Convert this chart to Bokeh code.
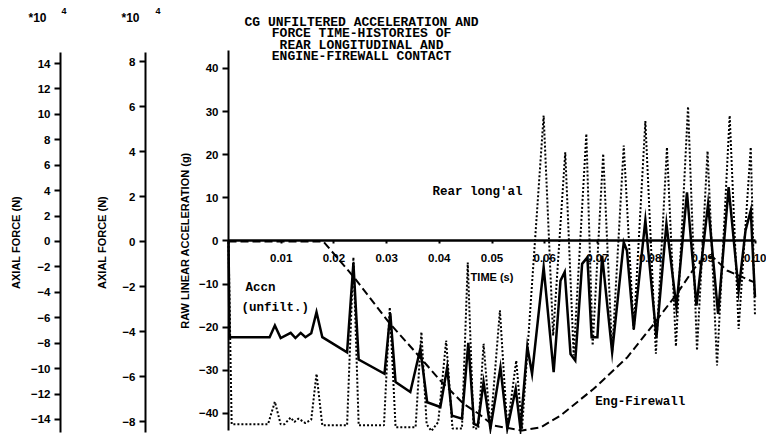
from bokeh.plotting import figure
from bokeh.models import Range1d, LinearAxis, FixedTicker, PrintfTickFormatter, Label
from bokeh.embed import file_html
from bokeh.resources import INLINE

# ---- data ----
time_acc = [0.0, 0.0002, 0.0078, 0.0088, 0.0099, 0.0118, 0.0127, 0.0137, 0.0146, 0.0157,
            0.0167, 0.0178, 0.0225, 0.0237, 0.0247, 0.0296, 0.0307, 0.0317, 0.0345, 0.0364,
            0.0377, 0.0402, 0.0415, 0.0424, 0.0443, 0.0455, 0.0466, 0.0473, 0.0484, 0.0497,
            0.0516, 0.0529, 0.0545, 0.0554, 0.0567, 0.0576, 0.0598, 0.0617, 0.0630, 0.0638,
            0.0649, 0.0658, 0.0671, 0.0681, 0.0689, 0.0700, 0.0709, 0.0728, 0.0750, 0.0756,
            0.0769, 0.0791, 0.0812, 0.0831, 0.0850, 0.0870, 0.0888, 0.0910, 0.0929, 0.0949,
            0.0968, 0.0981, 0.0991, 0.0999]
acc_g = [0.0, -22.3, -22.3, -19.6, -22.5, -21.3, -22.5, -21.3, -22.3, -21.4,
         -16.5, -22.3, -25.8, -5.1, -27.5, -30.8, -16.8, -32.7, -35.0, -25.0,
         -37.4, -38.5, -29.3, -40.5, -41.2, -23.6, -42.4, -42.8, -32.7, -43.5,
         -29.3, -43.5, -34.3, -43.5, -24.5, -30.8, -6.1, -30.4, -9.2, -7.2,
         -26.2, -27.7, -5.3, -3.8, -22.3, -22.3, -3.4, -25.8, -0.3, -2.2,
         -20.4, 4.8, -22.3, 4.0, -15.4, 11.3, -15.0, 8.6, -16.9, 12.5,
         -11.5, 2.4, 7.1, -13.0]

time_rear = [0.0, 0.0006, 0.0075, 0.0088, 0.0099, 0.0106, 0.0118, 0.0125, 0.0133, 0.0146,
             0.0157, 0.0167, 0.0178, 0.0225, 0.0237, 0.0247, 0.0295, 0.0306, 0.0317, 0.0355,
             0.0366, 0.0376, 0.0385, 0.0398, 0.0413, 0.0425, 0.0443, 0.0454, 0.0465, 0.0474,
             0.0484, 0.0497, 0.0515, 0.0529, 0.0546, 0.0557, 0.0598, 0.0616, 0.0639, 0.0655,
             0.0679, 0.0691, 0.0711, 0.0728, 0.0750, 0.0769, 0.0791, 0.0811, 0.0832, 0.0849,
             0.0872, 0.0889, 0.0909, 0.0927, 0.0951, 0.0968, 0.0991, 0.0999]
rear_force = [0.0, -8.1, -8.1, -7.1, -8.1, -8.1, -7.8, -8.0, -7.85, -8.05,
              -7.9, -5.86, -8.15, -8.15, -0.68, -8.15, -8.15, -2.9, -8.23, -8.23,
              -4.0, -8.1, -8.4, -8.0, -4.38, -8.29, -8.29, -0.91, -8.29, -8.29,
              -4.52, -8.3, -3.04, -8.3, -5.27, -8.3, 5.62, -4.16, 3.99, -5.04,
              4.81, -4.6, 3.92, -4.91, 4.29, -3.93, 5.37, -4.96, 4.21, -4.64,
              6.02, -4.82, 4.04, -5.49, 5.62, -3.86, 4.21, -3.27]

time_eng = [0.0, 0.0180, 0.0238, 0.0304, 0.0352, 0.0402, 0.0446, 0.0474, 0.0503, 0.0557,
            0.0592, 0.0630, 0.0693, 0.0757, 0.0807, 0.0851, 0.0883, 0.0902, 0.0918, 0.0946,
            0.0997]
eng_force = [0.0, 0.0, -2.81, -6.35, -8.58, -10.94, -12.77, -13.53, -14.48, -14.87,
             -14.63, -13.69, -11.59, -9.10, -6.48, -4.11, -2.15, -1.36, -1.18, -2.28,
             -3.20]

time_ticks = [0.01, 0.02, 0.03, 0.04, 0.05, 0.06, 0.07, 0.08, 0.09, 0.10]
acc_ticks = [-40, -30, -20, -10, 0, 10, 20, 30, 40]
force1_ticks = [-14, -12, -10, -8, -6, -4, -2, 0, 2, 4, 6, 8, 10, 12, 14]
force2_ticks = [-8, -6, -4, -2, 0, 2, 4, 6, 8]

title_lines = ["CG UNFILTERED ACCELERATION AND",
               "FORCE TIME-HISTORIES OF",
               "REAR LONGITUDINAL AND",
               "ENGINE-FIREWALL CONTACT"]

SANS = "Liberation Sans"
MONO = "Liberation Mono"

p = figure(width=766, height=434, output_backend="svg", toolbar_location=None,
           x_range=Range1d(-0.043264, 0.102087), y_range=Range1d(-44.870, 55.768),
           x_axis_location=None, y_axis_location=None, min_border=0)
p.outline_line_color = None
p.background_fill_color = "white"
p.border_fill_color = "white"
p.grid.grid_line_color = None
p.extra_y_ranges = {"f1": Range1d(-15.185, 18.961), "f2": Range1d(-8.556, 10.733)}


def style(ax, fs="11.5px", tick_out=6, lab_stand=4, axl_stand=5):
    ax.axis_line_width = 2
    ax.axis_line_color = "black"
    ax.major_tick_line_width = 2
    ax.major_tick_line_color = "black"
    ax.major_tick_out = tick_out
    ax.major_tick_in = 0
    ax.minor_tick_line_color = None
    ax.major_label_text_font = SANS
    ax.major_label_text_font_style = "bold"
    ax.major_label_text_font_size = fs
    ax.major_label_text_color = "black"
    ax.major_label_standoff = lab_stand
    ax.axis_label_text_font = SANS
    ax.axis_label_text_font_style = "bold"
    ax.axis_label_text_font_size = "11px"
    ax.axis_label_text_color = "black"
    ax.axis_label_standoff = axl_stand


acc_axis = LinearAxis(fixed_location=0, bounds=(-43.9, 44.2),
                      ticker=FixedTicker(ticks=acc_ticks),
                      axis_label="RAW LINEAR ACCELERATION (g)")
style(acc_axis, lab_stand=4, axl_stand=5)
p.add_layout(acc_axis, "left")

f2_axis = LinearAxis(y_range_name="f2", fixed_location=-0.01575, bounds=(-8.47, 8.42),
                     ticker=FixedTicker(ticks=force2_ticks), axis_label="AXIAL FORCE (N)")
style(f2_axis, lab_stand=4, axl_stand=11)
p.add_layout(f2_axis, "left")

f1_axis = LinearAxis(y_range_name="f1", fixed_location=-0.03188, bounds=(-15.0, 14.87),
                     ticker=FixedTicker(ticks=force1_ticks), axis_label="AXIAL FORCE (N)")
style(f1_axis, lab_stand=4, axl_stand=6)
p.add_layout(f1_axis, "left")

t_axis = LinearAxis(fixed_location=0, bounds=(0, 0.1),
                    ticker=FixedTicker(ticks=time_ticks),
                    formatter=PrintfTickFormatter(format="%.2f"),
                    axis_label="TIME (s)")
style(t_axis, fs="11.5px", tick_out=3, lab_stand=10, axl_stand=6)
t_axis.axis_line_width = 2.5
p.add_layout(t_axis, "below")

# series
p.line(time_acc, acc_g, line_width=2.5, line_color="black", line_join="miter")
p.line(time_rear, rear_force, y_range_name="f2", line_width=2, line_color="black",
       line_dash="2 2")
p.line(time_eng, eng_force, y_range_name="f1", line_width=2, line_color="black",
       line_dash="8 4")


def mono(x, y, text, align="left", size="12.5px"):
    p.add_layout(Label(x=x, y=y, text=text, text_font=MONO, text_font_style="bold",
                       text_font_size=size, text_align=align, text_baseline="middle",
                       text_color="black"))


def sans(x, y, text, size="12px"):
    p.add_layout(Label(x=x, y=y, text=text, text_font=SANS, text_font_style="bold",
                       text_font_size=size, text_align="left", text_baseline="middle",
                       text_color="black"))


for i, line in enumerate(title_lines):
    mono(0.02524, 50.67 - i * 2.667, line, align="center", size="13px")

mono(0.0387, 11.25, "Rear long'al")
mono(0.00323, -11.0, "Accn")
mono(0.00247, -15.6, "(unfilt.)")
mono(0.0696, -37.4, "Eng-Firewall")

sans(-0.03795, 51.8, "*10")
sans(-0.03169, 53.4, "4", size="9px")
sans(-0.0203, 51.8, "*10")
sans(-0.01385, 53.4, "4", size="9px")

open("out.html", "w").write(file_html(p, INLINE))
